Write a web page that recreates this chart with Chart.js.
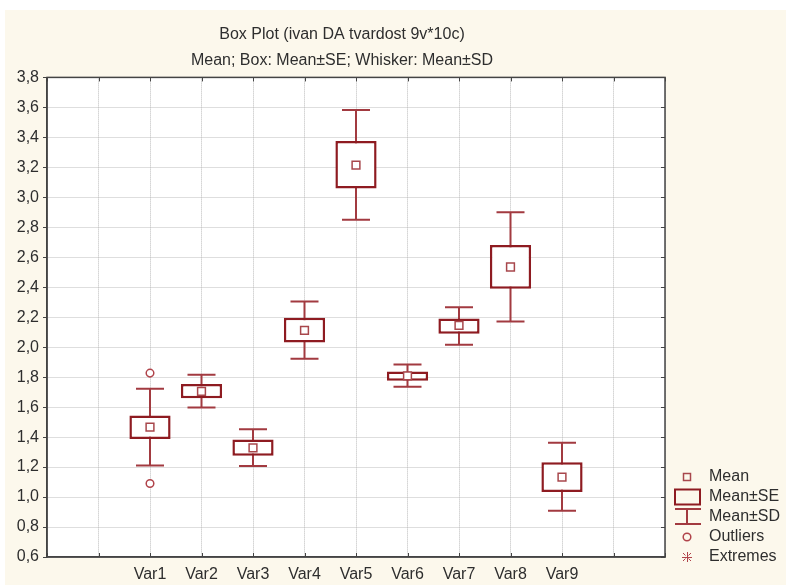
<!DOCTYPE html>
<html>
<head>
<meta charset="utf-8">
<script src="https://cdn.jsdelivr.net/npm/chart.js@4.4.1/dist/chart.umd.min.js"></script>
<style>
  html, body { margin: 0; padding: 0; background: #ffffff; }
  #wrap { width: 786px; height: 585px; }
</style>
</head>
<body>
<div id="wrap"><canvas id="c" width="786" height="585"></canvas></div>
<script>
// ---- data ----
const categories = ['Var1', 'Var2', 'Var3', 'Var4', 'Var5', 'Var6', 'Var7', 'Var8', 'Var9'];
const means  = [1.466, 1.705, 1.328, 2.112, 3.214, 1.809, 2.145, 2.535, 1.133];
const seLow  = [1.388, 1.660, 1.275, 2.032, 3.058, 1.776, 2.090, 2.390, 1.034];
const seHigh = [1.544, 1.754, 1.384, 2.197, 3.375, 1.838, 2.192, 2.682, 1.233];
const sdLow  = [1.210, 1.598, 1.208, 1.923, 2.851, 1.736, 2.016, 2.172, 0.908];
const sdHigh = [1.723, 1.816, 1.453, 2.304, 3.582, 1.885, 2.266, 2.900, 1.362];
const outlierCats   = ['Var1', 'Var1'];
const outlierValues = [1.827, 1.090];
const leadSlots  = ['', ''];
const trailSlots = ['', ''];
const yTickValues = [0.6, 0.8, 1.0, 1.2, 1.4, 1.6, 1.8, 2.0, 2.2, 2.4, 2.6, 2.8, 3.0, 3.2, 3.4, 3.6, 3.8];
const titleText = 'Box Plot (ivan DA tvardost 9v*10c)';
const subtitleText = 'Mean; Box: Mean±SE; Whisker: Mean±SD';
const legendLabels = ['Mean', 'Mean±SE', 'Mean±SD', 'Outliers', 'Extremes'];

// ---- derived tables ----
const xLabels = leadSlots.concat(categories, trailSlots);
const idx = l => categories.indexOf(l);
const boxData  = xLabels.map(l => idx(l) < 0 ? null : [seLow[idx(l)], seHigh[idx(l)]]);
const meanData = xLabels.map(l => idx(l) < 0 ? null : means[idx(l)]);
const outlierData = outlierCats.map((c, i) => ({ x: c, y: outlierValues[i] }));

const FONT = '"Liberation Sans", Arial, sans-serif';
const TEXT = '#2e2e2e';
const BOX = '#8e1b21';
const WHISK = '#a23a40';
const MEANC = '#a8474c';
const OUTC = '#b0434a';
const CREAM = '#fcf8ec';
const AXIS = '#444444';
const GRID = '#bcbcbc';

const bgPlugin = {
  id: 'bg',
  beforeDraw(chart) {
    const { ctx, chartArea: a } = chart;
    ctx.save();
    ctx.fillStyle = '#ffffff';
    ctx.fillRect(0, 0, chart.width, chart.height);
    ctx.fillStyle = CREAM;
    ctx.fillRect(5, 10, chart.width - 5, chart.height - 10);
    ctx.fillStyle = '#ffffff';
    ctx.fillRect(a.left, a.top, a.right - a.left, a.bottom - a.top);
    ctx.restore();
  }
};

const whiskerPlugin = {
  id: 'whiskers',
  beforeDatasetsDraw(chart) {
    const { ctx } = chart;
    const xs = chart.scales.x, ys = chart.scales.y;
    ctx.save();
    ctx.strokeStyle = WHISK;
    ctx.lineWidth = 2;
    categories.forEach((c, i) => {
      const x = xs.getPixelForValue(xLabels.indexOf(c));
      const yl = ys.getPixelForValue(sdLow[i]);
      const yh = ys.getPixelForValue(sdHigh[i]);
      const half = 14;
      ctx.beginPath();
      ctx.moveTo(x, yl); ctx.lineTo(x, yh);
      ctx.moveTo(x - half, yl); ctx.lineTo(x + half, yl);
      ctx.moveTo(x - half, yh); ctx.lineTo(x + half, yh);
      ctx.stroke();
    });
    ctx.restore();
  }
};

const framePlugin = {
  id: 'frame',
  afterDatasetsDraw(chart) {
    const { ctx, chartArea: a } = chart;
    const xs = chart.scales.x, ys = chart.scales.y;
    ctx.save();
    ctx.strokeStyle = AXIS;
    ctx.lineWidth = 1.5;
    ctx.strokeRect(a.left, a.top, a.right - a.left, a.bottom - a.top);
    ctx.lineWidth = 1;
    ctx.beginPath();
    xLabels.forEach((l, i) => {
      const x = Math.round(xs.getPixelForValue(i)) + 0.5;
      ctx.moveTo(x, a.top); ctx.lineTo(x, a.top + 4);
      ctx.moveTo(x, a.bottom); ctx.lineTo(x, a.bottom - 4);
    });
    yTickValues.forEach(v => {
      const y = Math.round(ys.getPixelForValue(v)) + 0.5;
      ctx.moveTo(a.right, y); ctx.lineTo(a.right - 4, y);
    });
    ctx.stroke();
    ctx.restore();
  }
};

const legendPlugin = {
  id: 'customLegend',
  afterDraw(chart) {
    const { ctx, chartArea: a } = chart;
    const cx = a.right + 22;
    const tx = a.right + 44;
    const y0 = a.bottom - 80;
    const dy = 20;
    ctx.save();
    ctx.font = '16px ' + FONT;
    ctx.fillStyle = TEXT;
    ctx.textBaseline = 'middle';
    ctx.textAlign = 'left';
    legendLabels.forEach((t, i) => ctx.fillText(t, tx, y0 + i * dy));
    // Mean
    ctx.strokeStyle = MEANC; ctx.lineWidth = 1.5;
    ctx.strokeRect(cx - 3.5, y0 - 3.5, 7, 7);
    // Mean±SE
    ctx.strokeStyle = BOX; ctx.lineWidth = 2;
    ctx.strokeRect(a.right + 10, y0 + dy - 7.5, 25, 15);
    // Mean±SD
    ctx.strokeStyle = WHISK; ctx.lineWidth = 2;
    const ys = y0 + 2 * dy;
    ctx.beginPath();
    ctx.moveTo(a.right + 10, ys - 8); ctx.lineTo(a.right + 36, ys - 8);
    ctx.moveTo(a.right + 10, ys + 7); ctx.lineTo(a.right + 36, ys + 7);
    ctx.moveTo(cx, ys - 8); ctx.lineTo(cx, ys + 7);
    ctx.stroke();
    // Outliers
    ctx.strokeStyle = OUTC; ctx.lineWidth = 1.5;
    ctx.beginPath(); ctx.arc(cx, y0 + 3 * dy, 3.8, 0, Math.PI * 2); ctx.stroke();
    // Extremes
    const ye = y0 + 4 * dy; const s = 5;
    ctx.lineWidth = 1;
    ctx.beginPath();
    ctx.moveTo(cx - s, ye + 0.5); ctx.lineTo(cx + s, ye + 0.5);
    ctx.moveTo(cx + 0.5, ye - s); ctx.lineTo(cx + 0.5, ye + s);
    ctx.moveTo(cx - s * 0.8, ye - s * 0.8); ctx.lineTo(cx - s * 0.3, ye - s * 0.3);
    ctx.moveTo(cx + s * 0.8, ye - s * 0.8); ctx.lineTo(cx + s * 0.3, ye - s * 0.3);
    ctx.moveTo(cx - s * 0.8, ye + s * 0.8); ctx.lineTo(cx - s * 0.3, ye + s * 0.3);
    ctx.moveTo(cx + s * 0.8, ye + s * 0.8); ctx.lineTo(cx + s * 0.3, ye + s * 0.3);
    ctx.stroke();
    ctx.restore();
  }
};

new Chart(document.getElementById('c'), {
  type: 'bar',
  data: {
    labels: xLabels,
    datasets: [
      {
        type: 'line', label: 'Mean', data: meanData, order: 0,
        showLine: false, pointStyle: 'rect', pointRadius: 5.5,
        pointBorderWidth: 1.5, pointBorderColor: MEANC, pointBackgroundColor: '#ffffff'
      },
      {
        type: 'line', label: 'Outliers', data: outlierData, order: 1,
        showLine: false, pointStyle: 'circle', pointRadius: 3.8,
        pointBorderWidth: 1.5, pointBorderColor: OUTC, pointBackgroundColor: '#ffffff'
      },
      {
        type: 'bar', label: 'Mean±SE', data: boxData, order: 2,
        backgroundColor: '#ffffff', borderColor: BOX, borderWidth: 2.5,
        borderSkipped: false, barPercentage: 1.0, categoryPercentage: 0.8
      }
    ]
  },
  options: {
    responsive: false,
    animation: false,
    devicePixelRatio: 1,
    layout: { padding: { left: 0, right: 102, top: 0, bottom: 0 } },
    plugins: {
      legend: { display: false },
      tooltip: { enabled: false },
      title: {
        display: true, text: titleText, color: TEXT,
        font: { family: FONT, size: 16, weight: 'normal' },
        padding: { top: 25, bottom: 4 }
      },
      subtitle: {
        display: true, text: subtitleText, color: TEXT,
        font: { family: FONT, size: 16, weight: 'normal' },
        padding: { top: 3, bottom: 7 }
      }
    },
    scales: {
      x: {
        type: 'category',
        offset: false,
        grid: { display: true, color: GRID, drawTicks: false, offset: false },
        border: { display: true, color: AXIS, width: 1.5, dash: [1, 1] },
        ticks: { color: TEXT, font: { family: FONT, size: 16 }, padding: 8, autoSkip: false, maxRotation: 0 },
        afterFit(s) { s.height = 28; }
      },
      y: {
        type: 'linear',
        min: 0.6, max: 3.8,
        afterBuildTicks(s) { s.ticks = yTickValues.map(v => ({ value: v })); },
        grid: { color: GRID, tickColor: AXIS, tickLength: 4, tickBorderDash: [] },
        border: { display: true, color: AXIS, width: 1.5, dash: [1, 1] },
        ticks: {
          color: TEXT, font: { family: FONT, size: 16 }, padding: 4,
          callback: v => v.toFixed(1).replace('.', ',')
        },
        afterFit(s) { s.width = 47; }
      },
      yRight: {
        type: 'linear', position: 'right',
        min: 0.6, max: 3.8,
        grid: { display: false, drawTicks: false },
        border: { display: false },
        ticks: { display: false },
        afterFit(s) { s.width = 19; }
      }
    }
  },
  plugins: [bgPlugin, whiskerPlugin, framePlugin, legendPlugin]
});
</script>
</body>
</html>
